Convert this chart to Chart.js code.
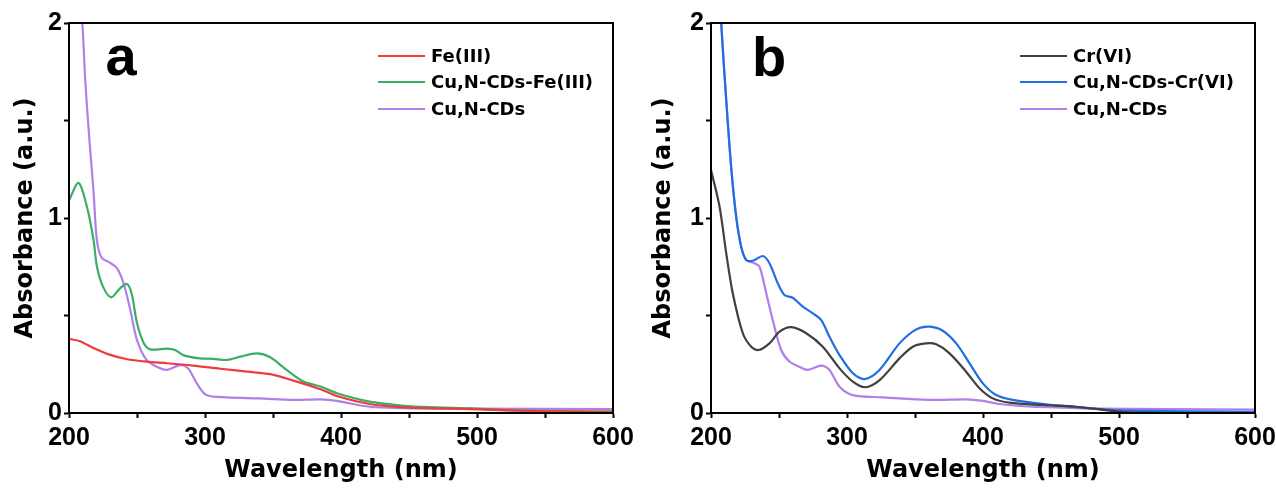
<!DOCTYPE html>
<html lang="en">
<head>
<meta charset="UTF-8">
<title>UV-Vis absorption spectra</title>
<script src="https://cdn.jsdelivr.net/npm/chart.js"></script>
<style>
  body { margin: 0; background: #fff; }
  .panel { position: absolute; top: 0; width: 638px; height: 490px; }
  #panelA { left: 0; }
  #panelB { left: 638px; }
</style>
</head>
<body>
<div class="panel" id="panelA"><canvas id="chartA" width="638" height="490"></canvas></div>
<div class="panel" id="panelB"><canvas id="chartB" width="638" height="490"></canvas></div>

<script>
// ---- spectra: wavelength (nm) / absorbance (a.u.) ----
// panel a
const feWl  = [200, 208, 218, 228, 242, 257, 272, 291, 311, 331, 348, 365, 385, 397, 421, 446, 470, 495, 543, 600];
const feAbs = [0.38, 0.368, 0.333, 0.303, 0.277, 0.263, 0.255, 0.243, 0.227, 0.212, 0.199, 0.166, 0.122, 0.087, 0.046, 0.029, 0.024, 0.02, 0.01, 0.005];

const cdsFeWl  = [200, 207, 213, 218, 220.5, 225, 231, 237.5, 242.5, 246, 250, 255, 260, 272, 278, 284, 296, 306, 316, 326, 338, 348, 360, 372, 385, 397, 421, 446, 470, 495, 519, 560, 600];
const cdsFeAbs = [1.09, 1.18, 1.063, 0.89, 0.753, 0.648, 0.593, 0.639, 0.662, 0.614, 0.461, 0.358, 0.326, 0.33, 0.323, 0.297, 0.28, 0.278, 0.272, 0.289, 0.306, 0.286, 0.221, 0.163, 0.136, 0.101, 0.058, 0.037, 0.029, 0.024, 0.015, 0.01, 0.008];

const cdsAWl  = [205, 209.8, 212, 215, 218, 220.5, 224, 230, 235, 240, 245, 250, 257, 264.5, 272, 281.5, 287.5, 294, 301, 316, 340, 365, 385, 397, 421, 446, 495, 600];
const cdsAAbs = [2.4, 2.0, 1.7, 1.4, 1.14, 0.887, 0.796, 0.771, 0.745, 0.668, 0.531, 0.374, 0.272, 0.237, 0.221, 0.246, 0.229, 0.152, 0.092, 0.08, 0.075, 0.067, 0.07, 0.062, 0.032, 0.025, 0.022, 0.02];

// panel b
const crWl  = [200, 206.3, 211.2, 216, 223.4, 229.6, 235, 243, 250.4, 259, 270, 282.2, 294.5, 304.3, 313.4, 324, 338.6, 348.4, 358.2, 365.6, 375.4, 387.6, 397.4, 407.2, 419.5, 444, 468.5, 493, 510, 550, 600];
const crAbs = [1.246, 1.058, 0.819, 0.614, 0.409, 0.34, 0.323, 0.357, 0.417, 0.44, 0.409, 0.34, 0.229, 0.161, 0.132, 0.169, 0.28, 0.34, 0.357, 0.352, 0.306, 0.212, 0.127, 0.075, 0.053, 0.041, 0.032, 0.012, 0.002, 0, 0];

const cdsCrWl  = [204, 207.5, 211.2, 214.8, 218.5, 222.2, 225.9, 230.8, 238.1, 243, 249.1, 254, 260.1, 267.5, 274.9, 281, 287.1, 294.5, 304.3, 312.9, 323.9, 338.6, 350.9, 360.7, 370.4, 380.3, 390.1, 399.9, 409.7, 421.9, 446.5, 471, 495.4, 534, 600];
const cdsCrAbs = [2.5, 2.0, 1.605, 1.263, 1.007, 0.853, 0.785, 0.781, 0.805, 0.768, 0.665, 0.605, 0.591, 0.545, 0.511, 0.477, 0.391, 0.297, 0.204, 0.174, 0.221, 0.357, 0.429, 0.443, 0.422, 0.357, 0.255, 0.152, 0.092, 0.067, 0.044, 0.029, 0.015, 0.01, 0.006];

const cdsBWl  = [204, 207.5, 211.2, 214.8, 218.5, 222.2, 225.9, 232, 235.7, 240.6, 245.4, 251.6, 257.7, 265, 271.2, 281, 287.1, 294.5, 304.3, 326.3, 338.6, 363, 387.6, 400, 412, 436.6, 461, 485.8, 535, 600];
const cdsBAbs = [2.5, 2.0, 1.605, 1.263, 1.007, 0.853, 0.785, 0.768, 0.75, 0.614, 0.477, 0.323, 0.264, 0.237, 0.221, 0.243, 0.221, 0.135, 0.092, 0.08, 0.075, 0.067, 0.07, 0.062, 0.046, 0.032, 0.027, 0.022, 0.02, 0.018];

// axis labels
const xTickLabels = [200, 300, 400, 500, 600];
const yTickLabels = [0, 1, 2];

Chart.defaults.font.family = '"Liberation Sans", Arial, sans-serif';
Chart.defaults.color = '#000';

const tickFont  = { family: '"Liberation Sans", Arial, sans-serif', size: 25, weight: 'bold' };
const titleFont = { family: '"DejaVu Sans", sans-serif', size: 24, weight: 'bold', lineHeight: 1.2 };

function toPoints(wl, abs) {
  return wl.map((x, i) => ({ x: x, y: abs[i] }));
}

function series(label, color, wl, abs) {
  return {
    label: label,
    data: toPoints(wl, abs),
    borderColor: color,
    backgroundColor: color,
    borderWidth: 2.2,
    pointRadius: 0,
    tension: 0.3,
    fill: false
  };
}

// frame box, panel letter and in-plot legend
const panelDecor = {
  id: 'panelDecor',
  afterDraw(chart, args, opts) {
    const { ctx, chartArea: a } = chart;
    ctx.save();
    ctx.strokeStyle = '#000';
    ctx.lineWidth = 2;
    ctx.strokeRect(a.left, a.top, a.right - a.left, a.bottom - a.top);

    ctx.fillStyle = '#000';
    ctx.font = 'bold 56px "Liberation Sans", Arial, sans-serif';
    ctx.textAlign = 'center';
    ctx.textBaseline = 'alphabetic';
    ctx.fillText(opts.letter, a.left + opts.letterDx, a.top + opts.letterBaseline);

    const rows = [33, 59, 86];
    ctx.font = 'bold 18px "DejaVu Sans", sans-serif';
    ctx.textAlign = 'left';
    ctx.textBaseline = 'middle';
    chart.data.datasets.forEach((ds, i) => {
      const y = a.top + rows[i];
      ctx.strokeStyle = ds.borderColor;
      ctx.lineWidth = ds.borderWidth;
      ctx.beginPath();
      ctx.moveTo(a.left + 309, y);
      ctx.lineTo(a.left + 356, y);
      ctx.stroke();
      ctx.fillText(ds.label, a.left + 362, y + 1);
    });
    ctx.restore();
  }
};

function makeOptions(yAxisWidth, padRight, letter, letterDx, letterBaseline) {
  return {
    responsive: false,
    animation: false,
    devicePixelRatio: 1,
    layout: { padding: { top: 23, right: padRight, bottom: 0, left: 0 } },
    plugins: {
      legend: { display: false },
      tooltip: { enabled: false },
      panelDecor: { letter: letter, letterDx: letterDx, letterBaseline: letterBaseline }
    },
    scales: {
      x: {
        type: 'linear',
        min: 200,
        max: 600,
        border: { display: true, color: '#000', width: 2 },
        grid: { drawOnChartArea: false, drawTicks: true, tickLength: 5, tickWidth: 2, color: '#000', tickColor: '#000' },
        ticks: {
          stepSize: 50,
          autoSkip: false,
          maxRotation: 0,
          padding: 5,
          color: '#000',
          font: tickFont,
          callback: v => xTickLabels.includes(v) ? String(v) : ''
        },
        title: { display: true, text: 'Wavelength (nm)', color: '#000', font: titleFont, padding: { top: 0, bottom: 5 } },
        afterFit: s => { s.height = 77; s.paddingLeft = 0; s.paddingRight = 0; }
      },
      y: {
        min: 0,
        max: 2,
        border: { display: true, color: '#000', width: 2 },
        grid: { drawOnChartArea: false, drawTicks: true, tickLength: 5, tickWidth: 2, color: '#000', tickColor: '#000' },
        ticks: {
          stepSize: 0.5,
          autoSkip: false,
          padding: 2,
          color: '#000',
          font: tickFont,
          callback: v => yTickLabels.includes(v) ? String(v) : ''
        },
        title: { display: true, text: 'Absorbance (a.u.)', color: '#000', font: titleFont, padding: { top: 11, bottom: 0 } },
        afterFit: s => { s.width = yAxisWidth; s.paddingTop = 0; s.paddingBottom = 0; }
      }
    }
  };
}

new Chart(document.getElementById('chartA'), {
  type: 'line',
  data: {
    datasets: [
      series('Fe(III)', '#ef3b3b', feWl, feAbs),
      series('Cu,N-CDs-Fe(III)', '#3aaf63', cdsFeWl, cdsFeAbs),
      series('Cu,N-CDs', '#b07fe8', cdsAWl, cdsAAbs)
    ]
  },
  options: makeOptions(69, 25, 'a', 52, 52),
  plugins: [panelDecor]
});

new Chart(document.getElementById('chartB'), {
  type: 'line',
  data: {
    datasets: [
      series('Cr(VI)', '#404040', crWl, crAbs),
      series('Cu,N-CDs-Cr(VI)', '#1f6fe0', cdsCrWl, cdsCrAbs),
      series('Cu,N-CDs', '#b07fe8', cdsBWl, cdsBAbs)
    ]
  },
  options: makeOptions(73, 21, 'b', 58, 53),
  plugins: [panelDecor]
});
</script>
</body>
</html>
